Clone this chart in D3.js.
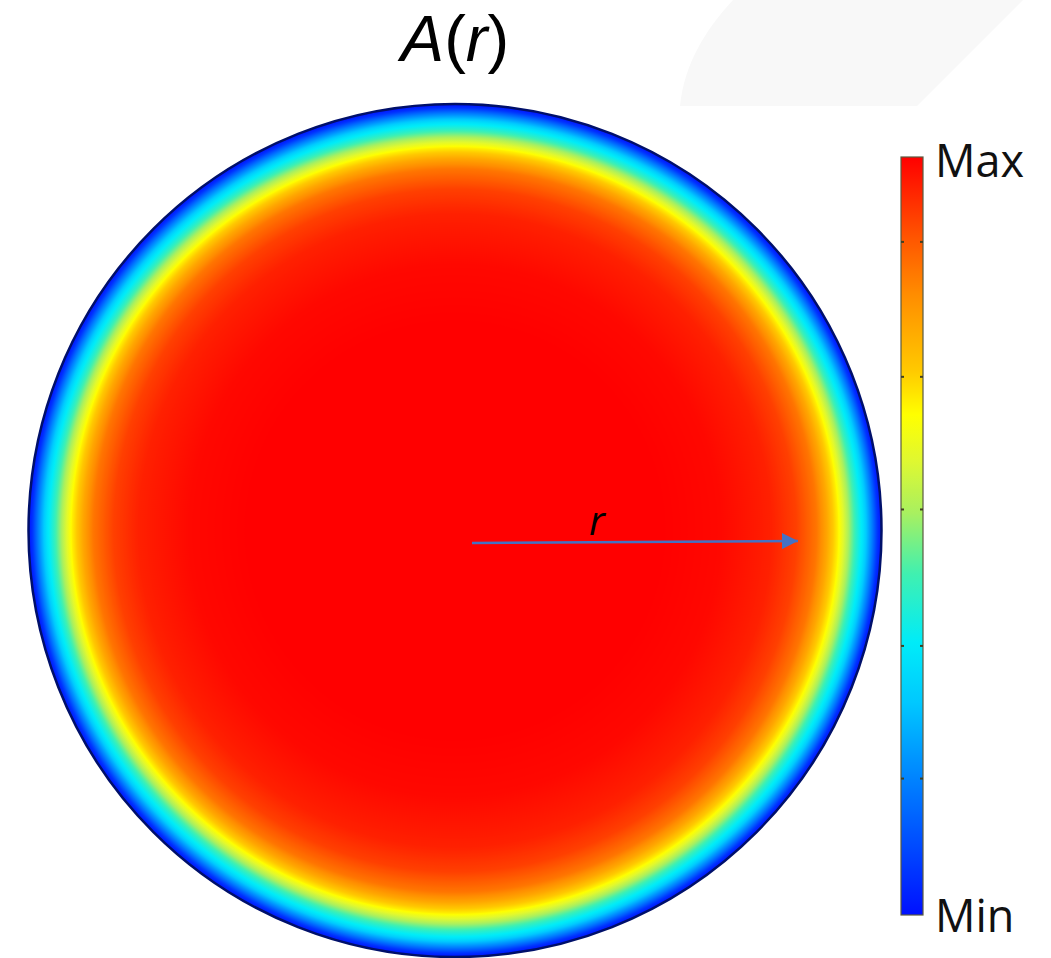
<!DOCTYPE html>
<html>
<head>
<meta charset="utf-8">
<script src="https://cdn.jsdelivr.net/npm/d3@7"></script>
<style>
  html, body { margin: 0; padding: 0; background: #fff; }
  svg { display: block; }
</style>
</head>
<body>
<svg id="chart" width="1051" height="958"></svg>
<script>
// ---- data ----
// colour map (fraction of colour bar from Min to Max -> colour)
const cmapPositions = [0, 0.1, 0.2, 0.28, 0.36, 0.45, 0.53, 0.6, 0.66, 0.72, 0.82, 0.9, 1];
const cmapColors = ["#0010ff", "#0050ff", "#0090ff", "#00c8ff", "#00ecf8", "#40f0b0", "#a8f060",
                    "#e0f830", "#ffff00", "#ffc800", "#ff8c00", "#ff5000", "#ff0000"];
// radial profile of A(r): normalised radius r/R -> normalised value
const profileRadius = [0, 0.485, 0.625, 0.742, 0.801, 0.848, 0.871, 0.897, 0.923, 0.941, 0.958, 0.977, 0.991, 1];
const profileValue  = [1, 1.0, 0.99, 0.96, 0.92, 0.85, 0.78, 0.68, 0.53, 0.42, 0.33, 0.18, 0.05, 0];
// colour bar tick positions (fraction from Min)
const barTicks = [0.18, 0.355, 0.535, 0.71, 0.888];
const barLabels = ["Min", "Max"];
const titleParts = [{t: "A", italic: true}, {t: "(", italic: false}, {t: "r", italic: true}, {t: ")", italic: false}];
const arrowLabel = "r";

// ---- layout ----
const svg = d3.select("#chart");
const cx = 455, cy = 530.5, R = 426.5;
const font = "'Open Sans', 'DejaVu Sans', sans-serif";
const titleFont = "'Liberation Sans', Arial, sans-serif";

const color = d3.scaleLinear().domain(cmapPositions).range(cmapColors).interpolate(d3.interpolateRgb).clamp(true);
const profile = d3.scaleLinear().domain(profileRadius).range(profileValue).clamp(true);

const defs = svg.append("defs");

// faint background artefact top right
svg.append("path")
  .attr("d", "M680,106 L917,106 L1023,0 L733,0 C705,30 684,65 680,106 Z")
  .attr("fill", "#f8f8f8");

// radial gradient for the disc
const rg = defs.append("radialGradient").attr("id", "disc")
  .attr("gradientUnits", "userSpaceOnUse")
  .attr("cx", cx).attr("cy", cy).attr("r", R).attr("fx", cx).attr("fy", cy);
d3.range(0, 1.0001, 0.0025).forEach(o => {
  rg.append("stop").attr("offset", o).attr("stop-color", color(profile(o)));
});

svg.append("circle")
  .attr("cx", cx).attr("cy", cy).attr("r", R)
  .attr("fill", "url(#disc)")
  .attr("stroke", "#00106a").attr("stroke-width", 2.5);

// arrow
defs.append("marker").attr("id", "head")
  .attr("viewBox", "0 0 10 10").attr("refX", 10).attr("refY", 5)
  .attr("markerWidth", 16).attr("markerHeight", 16)
  .attr("markerUnits", "userSpaceOnUse").attr("orient", "auto")
  .append("path").attr("d", "M0,0 L10,5 L0,10 Z").attr("fill", "#4472c4");

const ax = d3.scaleLinear().domain([0, 1]).range([cx + 17, cx + 17 + 326]);
svg.append("line")
  .attr("x1", ax(0)).attr("y1", 543).attr("x2", ax(1)).attr("y2", 541)
  .attr("stroke", "#4472c4").attr("stroke-width", 2.5)
  .attr("marker-end", "url(#head)");
svg.append("text")
  .attr("x", 597).attr("y", 535).attr("text-anchor", "middle")
  .attr("font-family", font).attr("font-style", "italic")
  .attr("font-size", 40).attr("fill", "#000")
  .text(arrowLabel);

// title
const title = svg.append("text")
  .attr("x", cx).attr("y", 61).attr("text-anchor", "middle")
  .attr("font-family", titleFont).attr("font-size", 65).attr("fill", "#000");
title.selectAll("tspan").data(titleParts).join("tspan")
  .attr("font-style", d => d.italic ? "italic" : "normal")
  .text(d => d.t);

// colour bar
const bx = 901, bw = 22, by0 = 915, by1 = 157;
const yb = d3.scaleLinear().domain([0, 1]).range([by0, by1]);
const lg = defs.append("linearGradient").attr("id", "bar")
  .attr("x1", 0).attr("y1", 1).attr("x2", 0).attr("y2", 0);
d3.range(0, 1.0001, 0.01).forEach(o => {
  lg.append("stop").attr("offset", o).attr("stop-color", color(o));
});
svg.append("rect")
  .attr("x", bx).attr("y", yb(1)).attr("width", bw).attr("height", yb(0) - yb(1))
  .attr("fill", "url(#bar)")
  .attr("stroke", "#5a5a40").attr("stroke-width", 1.2);
svg.selectAll("line.tl").data(barTicks).join("line").attr("class", "tl")
  .attr("x1", bx).attr("x2", bx + 3).attr("y1", d => yb(d)).attr("y2", d => yb(d))
  .attr("stroke", "#404020").attr("stroke-width", 2);
svg.selectAll("line.tr").data(barTicks).join("line").attr("class", "tr")
  .attr("x1", bx + bw - 3).attr("x2", bx + bw).attr("y1", d => yb(d)).attr("y2", d => yb(d))
  .attr("stroke", "#404020").attr("stroke-width", 2);

svg.append("text").attr("x", 935).attr("y", 177)
  .attr("font-family", font).attr("font-size", 45).attr("fill", "#111")
  .text(barLabels[1]);
svg.append("text").attr("x", 935).attr("y", 932)
  .attr("font-family", font).attr("font-size", 45).attr("fill", "#111")
  .text(barLabels[0]);
</script>
</body>
</html>
